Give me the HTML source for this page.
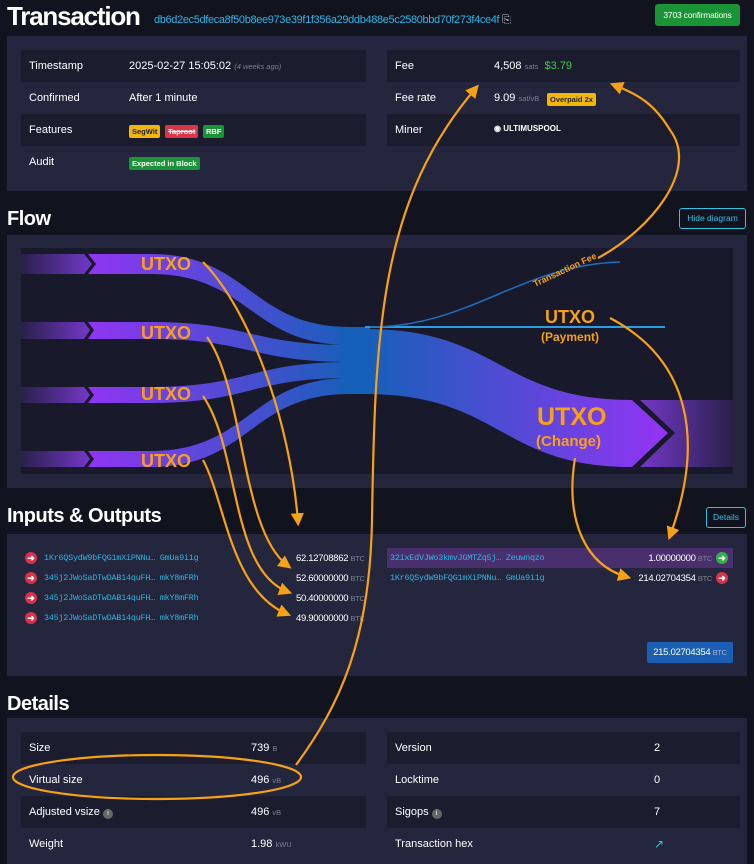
<!DOCTYPE html>
<html><head><meta charset="utf-8"><style>
*{margin:0;padding:0;box-sizing:border-box}
body{width:754px;height:864px;background:#11131f;font-family:"Liberation Sans",sans-serif;color:#fff;position:relative;overflow:hidden;font-size:11px}
.a{position:absolute;white-space:nowrap}
.panel{position:absolute;background:#24263d}
.row{position:absolute;background:#1b1d2f;height:32px}
.h{font-weight:bold;font-size:20px;letter-spacing:-0.5px}
.g{color:#7d8091;font-size:7.5px}
.badge{position:absolute;font-size:7.5px;font-weight:bold;border-radius:2px;padding:2px 3px;line-height:9px}
.mono{font-family:"Liberation Mono",monospace;color:#2fb6e6;font-size:8.4px;letter-spacing:-0.2px}
.v{font-size:9.5px;letter-spacing:-0.3px}
.ic{position:absolute;width:12px;height:12px;border-radius:50%;background:#d8334a;color:#fff;font-size:9px;line-height:12px;text-align:center;font-weight:bold}
</style></head><body>
<div class="a" style="left:7px;top:1px;font-size:26px;font-weight:bold;letter-spacing:-1.2px">Transaction</div>
<div class="a" style="left:154px;top:14px;font-size:11px;color:#2fb6e6;letter-spacing:-0.35px">db6d2ec5dfeca8f50b8ee973e39f1f356a29ddb488e5c2580bbd70f273f4ce4f <span style="color:#ccc">⎘</span></div>
<div class="a" style="left:655px;top:4px;width:85px;height:22px;background:#1a9436;border-radius:3px;font-size:8.5px;line-height:22px;text-align:center;letter-spacing:-0.2px">3703 confirmations</div>

<div class="panel" style="left:7px;top:36px;width:740px;height:155px"></div>
<div class="row" style="left:21px;top:50px;width:345px"></div>
<div class="row" style="left:21px;top:114px;width:345px"></div>
<div class="row" style="left:387px;top:50px;width:353px"></div>
<div class="row" style="left:387px;top:114px;width:353px"></div>
<div class="a" style="left:29px;top:60px">Timestamp</div>
<div class="a" style="left:129px;top:60px">2025-02-27 15:05:02 <i class="g">(4 weeks ago)</i></div>
<div class="a" style="left:29px;top:92px">Confirmed</div>
<div class="a" style="left:129px;top:92px">After 1 minute</div>
<div class="a" style="left:29px;top:124px">Features</div>
<div class="badge" style="left:129px;top:125px;background:#f2b705;color:#222">SegWit</div>
<div class="badge" style="left:165px;top:125px;background:#dc3545;color:#fff;text-decoration:line-through">Taproot</div>
<div class="badge" style="left:203px;top:125px;background:#1a9436">RBF</div>
<div class="a" style="left:29px;top:156px">Audit</div>
<div class="badge" style="left:129px;top:157px;background:#1a9436">Expected in Block</div>
<div class="a" style="left:395px;top:60px">Fee</div>
<div class="a" style="left:494px;top:60px">4,508 <span class="g">sats</span> &nbsp;<span style="color:#3bcc49">$3.79</span></div>
<div class="a" style="left:395px;top:92px">Fee rate</div>
<div class="a" style="left:494px;top:92px">9.09 <span class="g">sat/vB</span></div>
<div class="badge" style="left:547px;top:93px;background:#f2b705;color:#222">Overpaid 2x</div>
<div class="a" style="left:395px;top:124px">Miner</div>
<div class="a" style="left:494px;top:124px;font-size:8px;font-weight:bold">◉ ULTIMUSPOOL</div>

<div class="a h" style="left:7px;top:208px">Flow</div>
<div class="a" style="left:679px;top:208px;width:67px;height:21px;border:1px solid #2fc3e6;border-radius:3px;color:#2fc3e6;font-size:8.5px;line-height:19px;text-align:center">Hide diagram</div>
<div class="panel" style="left:7px;top:235px;width:740px;height:253px"></div>
<div class="a" style="left:21px;top:248px;width:712px;height:226px;background:#181a2c"></div>

<div class="a h" style="left:7px;top:505px">Inputs &amp; Outputs</div>
<div class="a" style="left:706px;top:507px;width:40px;height:21px;border:1px solid #2fc3e6;border-radius:3px;color:#2fc3e6;font-size:8.5px;line-height:19px;text-align:center">Details</div>
<div class="panel" style="left:7px;top:534px;width:740px;height:142px"></div>
<div class="a" style="left:387px;top:548px;width:346px;height:20px;background:#4a2f6e"></div>
<div class="ic" style="left:25px;top:552px">➜</div><div class="a mono" style="left:44px;top:553px">1Kr6QSydW9bFQG1mXiPNNu… GmUa9i1g</div><div class="a v" style="left:296px;top:553px">62.12708862 <span class="g">BTC</span></div>
<div class="ic" style="left:25px;top:572px">➜</div><div class="a mono" style="left:44px;top:573px">345j2JWoSaDTwDAB14quFH… mkY8mFRh</div><div class="a v" style="left:296px;top:573px">52.60000000 <span class="g">BTC</span></div>
<div class="ic" style="left:25px;top:592px">➜</div><div class="a mono" style="left:44px;top:593px">345j2JWoSaDTwDAB14quFH… mkY8mFRh</div><div class="a v" style="left:296px;top:593px">50.40000000 <span class="g">BTC</span></div>
<div class="ic" style="left:25px;top:612px">➜</div><div class="a mono" style="left:44px;top:613px">345j2JWoSaDTwDAB14quFH… mkY8mFRh</div><div class="a v" style="left:296px;top:613px">49.90000000 <span class="g">BTC</span></div>
<div class="a mono" style="left:390px;top:553px">32ixEdVJWo3kmvJGMTZq5j… Zeuwnqzo</div><div class="a v" style="left:600px;width:112px;text-align:right;top:553px">1.00000000 <span class="g">BTC</span></div><div class="ic" style="left:716px;top:552px;background:#2fb344">➜</div>
<div class="a mono" style="left:390px;top:573px">1Kr6QSydW9bFQG1mXiPNNu… GmUa9i1g</div><div class="a v" style="left:600px;width:112px;text-align:right;top:573px">214.02704354 <span class="g">BTC</span></div><div class="ic" style="left:716px;top:572px">➜</div>
<div class="a v" style="left:647px;top:642px;width:86px;height:21px;background:#1a5fb4;border-radius:2px;line-height:21px;text-align:center">215.02704354 <span class="g" style="color:#aac">BTC</span></div>

<div class="a h" style="left:7px;top:693px">Details</div>
<div class="panel" style="left:7px;top:718px;width:740px;height:146px"></div>
<div class="row" style="left:21px;top:732px;width:345px"></div>
<div class="row" style="left:21px;top:796px;width:345px"></div>
<div class="row" style="left:387px;top:732px;width:353px"></div>
<div class="row" style="left:387px;top:796px;width:353px"></div>
<div class="a" style="left:29px;top:742px">Size</div><div class="a" style="left:251px;top:742px">739 <span class="g">B</span></div>
<div class="a" style="left:29px;top:774px">Virtual size</div><div class="a" style="left:251px;top:774px">496 <span class="g">vB</span></div>
<div class="a" style="left:29px;top:806px">Adjusted vsize <span style="display:inline-block;width:10px;height:10px;border-radius:50%;background:#666;font-size:7px;text-align:center;line-height:10px">i</span></div><div class="a" style="left:251px;top:806px">496 <span class="g">vB</span></div>
<div class="a" style="left:29px;top:838px">Weight</div><div class="a" style="left:251px;top:838px">1.98 <span class="g">kWU</span></div>
<div class="a" style="left:395px;top:742px">Version</div><div class="a" style="left:654px;top:742px">2</div>
<div class="a" style="left:395px;top:774px">Locktime</div><div class="a" style="left:654px;top:774px">0</div>
<div class="a" style="left:395px;top:806px">Sigops <span style="display:inline-block;width:10px;height:10px;border-radius:50%;background:#666;font-size:7px;text-align:center;line-height:10px">i</span></div><div class="a" style="left:654px;top:806px">7</div>
<div class="a" style="left:395px;top:838px">Transaction hex</div><div class="a" style="left:654px;top:837px;color:#2fc3e6;font-size:12px">↗</div>

<svg class="a" style="left:0;top:0" width="754" height="864" viewBox="0 0 754 864">
<defs>
<linearGradient id="fade" x1="0" x2="1"><stop offset="0" stop-color="#8a3ff0" stop-opacity="0.15"/><stop offset="1" stop-color="#8a3ff0" stop-opacity="0.8"/></linearGradient>
<linearGradient id="fadeR" x1="0" x2="1"><stop offset="0" stop-color="#8a3ff0" stop-opacity="0.8"/><stop offset="1" stop-color="#8a3ff0" stop-opacity="0.15"/></linearGradient>
<linearGradient id="inG" x1="90" x2="360" gradientUnits="userSpaceOnUse"><stop offset="0" stop-color="#9035f2"/><stop offset="1" stop-color="#1560b8"/></linearGradient>
<linearGradient id="outG" x1="360" x2="660" gradientUnits="userSpaceOnUse"><stop offset="0" stop-color="#1560b8"/><stop offset="1" stop-color="#9035f2"/></linearGradient>
<marker id="ar" markerWidth="6" markerHeight="6" refX="4" refY="3" orient="auto" markerUnits="strokeWidth"><path d="M0,0 L6,3 L0,6 z" fill="#f7a114"/></marker>
</defs>
<path d="M21,254 H84 L92,264 L84,274 H21z" fill="url(#fade)"/>
<path d="M21,322 H84 L90,330 L84,339 H21z" fill="url(#fade)"/>
<path d="M21,387 H84 L90,395 L84,403 H21z" fill="url(#fade)"/>
<path d="M21,451 H84 L90,459 L84,467 H21z" fill="url(#fade)"/>
<path d="M88,254 H150 C250,254 250,327 350,327 V345 C250,345 250,274 150,274 H88 L96,264z" fill="url(#inG)"/>
<path d="M88,322 H150 C250,322 250,345 350,345 V362 C250,362 250,339 150,339 H88 L94,330z" fill="url(#inG)"/>
<path d="M88,387 H150 C250,387 250,362 350,362 V378 C250,378 250,403 150,403 H88 L94,395z" fill="url(#inG)"/>
<path d="M88,451 H150 C250,451 250,378 350,378 V394 C250,394 250,467 150,467 H88 L94,459z" fill="url(#inG)"/>
<rect x="340" y="327" width="30" height="67" fill="#1560b8"/>
<path d="M365,329 C500,329 500,400 632,400 L668,433 L632,467 C500,467 500,394 365,394z" fill="url(#outG)"/>
<path d="M640,400 H733 V467 H640 L675,433z" fill="url(#fadeR)"/>
<path d="M365,327 H665" stroke="#2a9ee0" stroke-width="2"/>
<path d="M370,327 C470,327 520,265 620,262" stroke="#1e6fc0" stroke-width="1.5" fill="none"/>
<g font-family="Liberation Sans,sans-serif" font-weight="bold" fill="#f7a114">
<text x="141" y="270" font-size="18">UTXO</text>
<text x="141" y="339" font-size="18">UTXO</text>
<text x="141" y="400" font-size="18">UTXO</text>
<text x="141" y="467" font-size="18">UTXO</text>
<text x="545" y="323" font-size="18">UTXO</text>
<text x="541" y="341" font-size="12">(Payment)</text>
<text x="537" y="425" font-size="25">UTXO</text>
<text x="536" y="446" font-size="15">(Change)</text>
<text x="535" y="287" font-size="9" transform="rotate(-25 535 287)">Transaction Fee</text>
</g>
<g stroke="#f7a114" stroke-width="2.2" fill="none" marker-end="url(#ar)">
<path d="M203,262 C250,310 290,420 298,522"/>
<path d="M207,337 C245,390 240,530 288,566"/>
<path d="M203,396 C240,450 230,570 288,592"/>
<path d="M203,460 C225,500 230,590 287,614"/>
<path d="M296,765 C340,705 370,640 372,520 C375,330 380,200 476,88"/>
<path d="M598,258 C650,230 700,170 670,130 C655,105 640,95 614,85"/>
<path d="M610,318 C690,360 705,440 670,536"/>
<path d="M575,458 C565,520 585,565 627,577"/>
</g>
<ellipse cx="157" cy="777" rx="144" ry="22" stroke="#f7a114" stroke-width="2.2" fill="none"/>
</svg>
</body></html>
